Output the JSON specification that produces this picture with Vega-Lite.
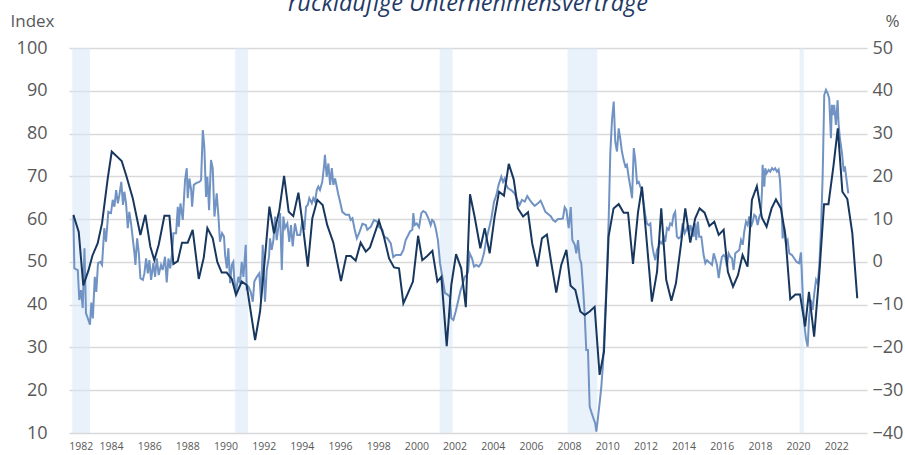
{
  "$schema": "https://vega.github.io/schema/vega-lite/v6.json",
  "width": 798,
  "height": 385,
  "autosize": {"type": "none"},
  "padding": {"left": 69, "top": 48, "right": 38, "bottom": 22},
  "background": "white",
  "config": {"view": {"stroke": null}, "font": "Open Sans", "axisX": {"labelOverlap": false}},
  "title": {"text": "rückläufige Unternehmensverträge", "font": "Open Sans", "fontStyle": "italic", "fontWeight": "normal", "fontSize": 23.5, "color": "#1F3A66", "anchor": "middle", "frame": "group", "offset": 0, "dy": 3},
  "datasets": {
    "bands": [
      {"start": 1981.97, "end": 1982.9},
      {"start": 1990.5, "end": 1991.18},
      {"start": 2001.22, "end": 2001.9},
      {"start": 2007.92, "end": 2009.48},
      {"start": 2020.08, "end": 2020.3}
    ],
    "dark": [
      {"t":1982.03,"i":61},{"t":1982.31,"i":57},{"t":1982.55,"i":44.5},{"t":1982.82,"i":48},{"t":1983.03,"i":51.5},{"t":1983.3,"i":54.3},{"t":1983.53,"i":59},{"t":1983.83,"i":69.5},{"t":1984.04,"i":75.8},{"t":1984.56,"i":73.6},{"t":1984.79,"i":70.3},{"t":1985.14,"i":64.9},{"t":1985.54,"i":56.3},{"t":1985.8,"i":61},{"t":1986.06,"i":53.6},{"t":1986.27,"i":50.4},{"t":1986.5,"i":54},{"t":1986.8,"i":60.8},{"t":1987.06,"i":60.8},{"t":1987.27,"i":49.5},{"t":1987.5,"i":50.2},{"t":1987.72,"i":54.5},{"t":1988.02,"i":54.5},{"t":1988.28,"i":57.5},{"t":1988.6,"i":46},{"t":1988.86,"i":51},{"t":1989.05,"i":57.9},{"t":1989.33,"i":55.5},{"t":1989.57,"i":50},{"t":1989.8,"i":47.5},{"t":1990.06,"i":47.5},{"t":1990.33,"i":46},{"t":1990.55,"i":42.3},{"t":1990.85,"i":45.4},{"t":1991.11,"i":44.6},{"t":1991.55,"i":31.7},{"t":1991.81,"i":38.4},{"t":1992.04,"i":49.7},{"t":1992.3,"i":62.9},{"t":1992.54,"i":56.7},{"t":1992.82,"i":62.1},{"t":1993.07,"i":70.1},{"t":1993.31,"i":61.7},{"t":1993.55,"i":60.7},{"t":1993.82,"i":66.2},{"t":1994.08,"i":57.5},{"t":1994.31,"i":48.9},{"t":1994.55,"i":60.2},{"t":1994.81,"i":64.5},{"t":1995.09,"i":63.3},{"t":1995.33,"i":58.6},{"t":1995.65,"i":54.5},{"t":1996.05,"i":45.5},{"t":1996.33,"i":51.4},{"t":1996.56,"i":51.4},{"t":1996.82,"i":50.3},{"t":1997.08,"i":54.5},{"t":1997.35,"i":52.4},{"t":1997.57,"i":53.4},{"t":1997.82,"i":56.7},{"t":1998.04,"i":59.6},{"t":1998.3,"i":55.9},{"t":1998.57,"i":50.8},{"t":1998.83,"i":48.7},{"t":1999.09,"i":48.5},{"t":1999.32,"i":40.3},{"t":1999.56,"i":42.7},{"t":1999.82,"i":45.4},{"t":2000.09,"i":56.1},{"t":2000.31,"i":50.4},{"t":2000.57,"i":51.4},{"t":2000.84,"i":52.6},{"t":2001.1,"i":45.4},{"t":2001.31,"i":46.5},{"t":2001.59,"i":30.3},{"t":2001.83,"i":44.6},{"t":2002.08,"i":51.8},{"t":2002.35,"i":48.5},{"t":2002.59,"i":39.4},{"t":2002.81,"i":65.8},{"t":2003.05,"i":60.6},{"t":2003.35,"i":53.2},{"t":2003.58,"i":57.9},{"t":2003.84,"i":52},{"t":2004.1,"i":60.6},{"t":2004.33,"i":66.4},{"t":2004.59,"i":65.5},{"t":2004.84,"i":72.9},{"t":2005.1,"i":69.3},{"t":2005.32,"i":62.5},{"t":2005.59,"i":60.6},{"t":2005.85,"i":61.6},{"t":2006.07,"i":54.3},{"t":2006.34,"i":48.9},{"t":2006.58,"i":55.5},{"t":2006.84,"i":56.4},{"t":2007.07,"i":49.7},{"t":2007.33,"i":42.8},{"t":2007.59,"i":49.3},{"t":2007.86,"i":52.8},{"t":2008.08,"i":44.4},{"t":2008.33,"i":43.4},{"t":2008.59,"i":38.4},{"t":2008.82,"i":37.6},{"t":2009.08,"i":38.4},{"t":2009.34,"i":39.5},{"t":2009.6,"i":23.6},{"t":2009.83,"i":29},{"t":2010.07,"i":55.9},{"t":2010.33,"i":62.5},{"t":2010.6,"i":63.5},{"t":2010.86,"i":61.5},{"t":2011.09,"i":61.5},{"t":2011.35,"i":49.5},{"t":2011.61,"i":61.5},{"t":2011.82,"i":67.6},{"t":2012.08,"i":54.3},{"t":2012.34,"i":40.7},{"t":2012.61,"i":47.7},{"t":2012.83,"i":62.5},{"t":2013.09,"i":45.8},{"t":2013.36,"i":40.9},{"t":2013.6,"i":45},{"t":2013.86,"i":54},{"t":2014.09,"i":62.5},{"t":2014.35,"i":54.5},{"t":2014.61,"i":60.2},{"t":2014.84,"i":62.5},{"t":2015.1,"i":61.5},{"t":2015.35,"i":58.4},{"t":2015.61,"i":59.4},{"t":2015.84,"i":56.3},{"t":2016.1,"i":57.5},{"t":2016.32,"i":47.7},{"t":2016.59,"i":44.2},{"t":2016.85,"i":46.9},{"t":2017.09,"i":51.6},{"t":2017.35,"i":48.9},{"t":2017.58,"i":64.5},{"t":2017.84,"i":67.7},{"t":2018.1,"i":60.4},{"t":2018.35,"i":58.2},{"t":2018.61,"i":62.5},{"t":2018.84,"i":64.6},{"t":2019.1,"i":62.5},{"t":2019.33,"i":56.3},{"t":2019.59,"i":41.3},{"t":2019.86,"i":42.4},{"t":2020.1,"i":42.4},{"t":2020.37,"i":34.9},{"t":2020.57,"i":43},{"t":2020.84,"i":32.5},{"t":2021.1,"i":46.5},{"t":2021.36,"i":63.5},{"t":2021.59,"i":63.5},{"t":2021.85,"i":72.3},{"t":2022.08,"i":81.2},{"t":2022.32,"i":66.4},{"t":2022.58,"i":64.7},{"t":2022.84,"i":56.7},{"t":2023.1,"i":41.5}
    ],
    "light": [
      {"t":1982.03,"v":10.6},{"t":1982.08,"v":-1.5},{"t":1982.26,"v":-1.9},{"t":1982.34,"v":-8.9},{"t":1982.43,"v":-6.6},{"t":1982.52,"v":-10.8},{"t":1982.61,"v":3.2},{"t":1982.69,"v":-12},{"t":1982.82,"v":-13.6},{"t":1982.9,"v":-14.7},{"t":1982.97,"v":-9.5},{"t":1983.05,"v":-13.2},{"t":1983.15,"v":-3.5},{"t":1983.23,"v":-7},{"t":1983.32,"v":-0.3},{"t":1983.44,"v":0},{"t":1983.53,"v":-0.7},{"t":1983.65,"v":7.9},{"t":1983.74,"v":4.7},{"t":1983.86,"v":11.7},{"t":1984.0,"v":11.4},{"t":1984.09,"v":14.5},{"t":1984.18,"v":12.9},{"t":1984.27,"v":16.8},{"t":1984.36,"v":13.7},{"t":1984.44,"v":15.6},{"t":1984.54,"v":18.7},{"t":1984.63,"v":13.3},{"t":1984.7,"v":16.4},{"t":1984.79,"v":13.7},{"t":1984.88,"v":7.9},{"t":1984.96,"v":11.7},{"t":1985.05,"v":9},{"t":1985.14,"v":5.5},{"t":1985.23,"v":2},{"t":1985.28,"v":-0.7},{"t":1985.37,"v":5.5},{"t":1985.46,"v":2},{"t":1985.54,"v":-3.8},{"t":1985.67,"v":-4.2},{"t":1985.75,"v":-2.7},{"t":1985.84,"v":0.8},{"t":1985.93,"v":-2.7},{"t":1986.01,"v":0.4},{"t":1986.1,"v":-4.2},{"t":1986.22,"v":-0.3},{"t":1986.31,"v":-3.5},{"t":1986.4,"v":0.8},{"t":1986.5,"v":-3.1},{"t":1986.62,"v":-0.7},{"t":1986.71,"v":-1.9},{"t":1986.83,"v":1.2},{"t":1986.92,"v":-4.8},{"t":1987.01,"v":0.8},{"t":1987.1,"v":-1.5},{"t":1987.2,"v":2},{"t":1987.27,"v":6.7},{"t":1987.41,"v":6.7},{"t":1987.5,"v":12.9},{"t":1987.55,"v":8.2},{"t":1987.64,"v":13.7},{"t":1987.76,"v":9.8},{"t":1987.88,"v":19.1},{"t":1987.97,"v":21.9},{"t":1988.02,"v":14.9},{"t":1988.11,"v":19.5},{"t":1988.2,"v":16.8},{"t":1988.25,"v":12.9},{"t":1988.34,"v":18},{"t":1988.46,"v":18.4},{"t":1988.63,"v":18.7},{"t":1988.72,"v":19.1},{"t":1988.81,"v":30.8},{"t":1988.89,"v":26.9},{"t":1988.98,"v":15.2},{"t":1989.05,"v":19.9},{"t":1989.14,"v":12.1},{"t":1989.24,"v":23.8},{"t":1989.33,"v":21.9},{"t":1989.42,"v":10.6},{"t":1989.54,"v":16},{"t":1989.63,"v":10.6},{"t":1989.71,"v":4.7},{"t":1989.82,"v":6.7},{"t":1989.92,"v":5.9},{"t":1989.98,"v":1.6},{"t":1990.07,"v":-1.5},{"t":1990.15,"v":3.2},{"t":1990.24,"v":-5},{"t":1990.33,"v":-0.7},{"t":1990.41,"v":0},{"t":1990.46,"v":-4.2},{"t":1990.55,"v":-7},{"t":1990.67,"v":-3.5},{"t":1990.76,"v":-5},{"t":1990.85,"v":0},{"t":1990.94,"v":-3.5},{"t":1991.06,"v":4},{"t":1991.11,"v":-6.2},{"t":1991.2,"v":-5.8},{"t":1991.32,"v":-7},{"t":1991.43,"v":-9.3},{"t":1991.51,"v":-4.6},{"t":1991.64,"v":-3.5},{"t":1991.77,"v":-2.7},{"t":1991.86,"v":-8.9},{"t":1991.95,"v":4},{"t":1992.07,"v":-9.3},{"t":1992.16,"v":-1.9},{"t":1992.28,"v":1.2},{"t":1992.33,"v":5.5},{"t":1992.42,"v":2.8},{"t":1992.51,"v":5.1},{"t":1992.6,"v":10.6},{"t":1992.68,"v":5.1},{"t":1992.77,"v":8.2},{"t":1992.86,"v":11.4},{"t":1992.95,"v":-1.9},{"t":1993.03,"v":10.6},{"t":1993.12,"v":7.9},{"t":1993.24,"v":9},{"t":1993.34,"v":4.7},{"t":1993.43,"v":8.6},{"t":1993.52,"v":3.6},{"t":1993.64,"v":9},{"t":1993.76,"v":6.3},{"t":1993.91,"v":6.3},{"t":1994.03,"v":9.8},{"t":1994.13,"v":7.5},{"t":1994.22,"v":12.9},{"t":1994.31,"v":13.3},{"t":1994.39,"v":14.9},{"t":1994.52,"v":13.7},{"t":1994.6,"v":14.9},{"t":1994.69,"v":14.1},{"t":1994.78,"v":16.8},{"t":1994.86,"v":17.6},{"t":1994.95,"v":16.8},{"t":1995.07,"v":18.7},{"t":1995.16,"v":22.3},{"t":1995.21,"v":25},{"t":1995.3,"v":19.9},{"t":1995.39,"v":23},{"t":1995.48,"v":18},{"t":1995.57,"v":21.9},{"t":1995.65,"v":18},{"t":1995.74,"v":19.5},{"t":1995.9,"v":16},{"t":1996.0,"v":14.1},{"t":1996.12,"v":11.7},{"t":1996.3,"v":11},{"t":1996.47,"v":11},{"t":1996.56,"v":9.8},{"t":1996.65,"v":10.2},{"t":1996.77,"v":7.5},{"t":1996.88,"v":5.5},{"t":1997.0,"v":6.7},{"t":1997.17,"v":8.9},{"t":1997.35,"v":8.6},{"t":1997.43,"v":7.5},{"t":1997.61,"v":8.2},{"t":1997.78,"v":9.8},{"t":1997.95,"v":9.4},{"t":1998.04,"v":8.2},{"t":1998.22,"v":7.5},{"t":1998.31,"v":5.9},{"t":1998.48,"v":5.5},{"t":1998.66,"v":4.3},{"t":1998.79,"v":1.1},{"t":1998.92,"v":1.6},{"t":1999.18,"v":1.6},{"t":1999.32,"v":2.8},{"t":1999.44,"v":5.1},{"t":1999.67,"v":7.1},{"t":1999.79,"v":7.5},{"t":1999.84,"v":11.4},{"t":1999.91,"v":8.6},{"t":2000.02,"v":9},{"t":2000.14,"v":8.1},{"t":2000.26,"v":11.4},{"t":2000.36,"v":11.9},{"t":2000.49,"v":11.5},{"t":2000.63,"v":10.2},{"t":2000.75,"v":8.6},{"t":2000.83,"v":9.8},{"t":2000.92,"v":9.4},{"t":2001.01,"v":7.9},{"t":2001.13,"v":5.1},{"t":2001.24,"v":-0.3},{"t":2001.36,"v":-3.5},{"t":2001.5,"v":-7.3},{"t":2001.62,"v":-7.6},{"t":2001.75,"v":-8.1},{"t":2001.83,"v":-13.2},{"t":2001.94,"v":-13.6},{"t":2002.06,"v":-11.6},{"t":2002.18,"v":-9.3},{"t":2002.32,"v":-6.6},{"t":2002.41,"v":-5.4},{"t":2002.53,"v":-3.5},{"t":2002.64,"v":-3.1},{"t":2002.71,"v":-2.3},{"t":2002.79,"v":2},{"t":2002.92,"v":0.8},{"t":2003.02,"v":-1.1},{"t":2003.14,"v":-0.7},{"t":2003.27,"v":-1.1},{"t":2003.4,"v":-0.3},{"t":2003.54,"v":2},{"t":2003.66,"v":5.1},{"t":2003.79,"v":7.5},{"t":2003.93,"v":10.2},{"t":2004.07,"v":14.1},{"t":2004.19,"v":15.6},{"t":2004.31,"v":18},{"t":2004.45,"v":19.9},{"t":2004.54,"v":18.7},{"t":2004.63,"v":19.5},{"t":2004.71,"v":18},{"t":2004.8,"v":17.2},{"t":2004.97,"v":16.8},{"t":2005.15,"v":16},{"t":2005.27,"v":14.5},{"t":2005.41,"v":13.3},{"t":2005.53,"v":14.5},{"t":2005.68,"v":14.1},{"t":2005.81,"v":15.4},{"t":2005.94,"v":14.5},{"t":2006.07,"v":13.7},{"t":2006.2,"v":13.1},{"t":2006.37,"v":13.7},{"t":2006.51,"v":14.3},{"t":2006.63,"v":13.1},{"t":2006.76,"v":11.7},{"t":2006.9,"v":11.2},{"t":2007.04,"v":10.7},{"t":2007.16,"v":9.8},{"t":2007.28,"v":9.4},{"t":2007.42,"v":10},{"t":2007.56,"v":10},{"t":2007.68,"v":10.2},{"t":2007.77,"v":12.8},{"t":2007.86,"v":12.1},{"t":2007.98,"v":7.9},{"t":2008.09,"v":12.8},{"t":2008.17,"v":5.1},{"t":2008.3,"v":4},{"t":2008.38,"v":2},{"t":2008.47,"v":5.1},{"t":2008.56,"v":0.8},{"t":2008.64,"v":-0.3},{"t":2008.73,"v":-5.8},{"t":2008.82,"v":-12.4},{"t":2008.9,"v":-20.6},{"t":2008.99,"v":-20.6},{"t":2009.08,"v":-33.8},{"t":2009.16,"v":-35},{"t":2009.25,"v":-36.2},{"t":2009.31,"v":-37},{"t":2009.37,"v":-37.7},{"t":2009.43,"v":-39.7},{"t":2009.52,"v":-36.2},{"t":2009.6,"v":-33.1},{"t":2009.69,"v":-29.2},{"t":2009.78,"v":-23.7},{"t":2009.9,"v":-11.2},{"t":2009.99,"v":-2.3},{"t":2010.08,"v":10.6},{"t":2010.16,"v":25.4},{"t":2010.25,"v":33.2},{"t":2010.34,"v":37.5},{"t":2010.42,"v":28.1},{"t":2010.51,"v":25.8},{"t":2010.6,"v":31.2},{"t":2010.68,"v":28.9},{"t":2010.77,"v":25.8},{"t":2010.86,"v":23.8},{"t":2010.95,"v":22.3},{"t":2011.03,"v":22.7},{"t":2011.12,"v":19.9},{"t":2011.21,"v":17.6},{"t":2011.3,"v":14.9},{"t":2011.39,"v":26.6},{"t":2011.47,"v":23.8},{"t":2011.56,"v":18.4},{"t":2011.65,"v":18.7},{"t":2011.73,"v":17.6},{"t":2011.82,"v":16.8},{"t":2011.91,"v":13.7},{"t":2011.99,"v":11},{"t":2012.08,"v":9},{"t":2012.17,"v":8.6},{"t":2012.26,"v":9},{"t":2012.34,"v":4.3},{"t":2012.43,"v":2},{"t":2012.52,"v":0.4},{"t":2012.61,"v":2.8},{"t":2012.7,"v":3.6},{"t":2012.78,"v":4.7},{"t":2012.87,"v":4.3},{"t":2012.96,"v":5.9},{"t":2013.04,"v":4.7},{"t":2013.13,"v":7.9},{"t":2013.22,"v":7.5},{"t":2013.3,"v":9},{"t":2013.39,"v":8.6},{"t":2013.48,"v":11},{"t":2013.56,"v":11.7},{"t":2013.65,"v":5.9},{"t":2013.74,"v":5.5},{"t":2013.86,"v":5.9},{"t":2013.95,"v":9},{"t":2014.06,"v":6.7},{"t":2014.14,"v":7.5},{"t":2014.23,"v":8.6},{"t":2014.3,"v":6.3},{"t":2014.35,"v":8.6},{"t":2014.44,"v":7.5},{"t":2014.53,"v":5.9},{"t":2014.61,"v":9},{"t":2014.66,"v":5.1},{"t":2014.75,"v":9.4},{"t":2014.82,"v":5.9},{"t":2014.93,"v":5.9},{"t":2015.05,"v":1.6},{"t":2015.14,"v":-0.3},{"t":2015.23,"v":0.4},{"t":2015.31,"v":0},{"t":2015.4,"v":-0.3},{"t":2015.49,"v":-0.7},{"t":2015.58,"v":2},{"t":2015.66,"v":0.8},{"t":2015.75,"v":-0.7},{"t":2015.84,"v":-3.8},{"t":2015.92,"v":-1.1},{"t":2016.01,"v":1.2},{"t":2016.1,"v":1.6},{"t":2016.18,"v":1.2},{"t":2016.27,"v":-1.1},{"t":2016.36,"v":2},{"t":2016.45,"v":1.2},{"t":2016.54,"v":0.8},{"t":2016.62,"v":-1.9},{"t":2016.71,"v":2},{"t":2016.92,"v":2.8},{"t":2017.01,"v":5.1},{"t":2017.1,"v":4},{"t":2017.18,"v":7.1},{"t":2017.27,"v":9.4},{"t":2017.36,"v":8.6},{"t":2017.44,"v":10.6},{"t":2017.53,"v":8.2},{"t":2017.62,"v":9.4},{"t":2017.7,"v":11},{"t":2017.79,"v":10.6},{"t":2017.88,"v":8.6},{"t":2017.97,"v":10.6},{"t":2018.05,"v":11.4},{"t":2018.11,"v":16.8},{"t":2018.14,"v":22.7},{"t":2018.23,"v":17.6},{"t":2018.28,"v":21.9},{"t":2018.35,"v":20.7},{"t":2018.46,"v":21.5},{"t":2018.54,"v":21.1},{"t":2018.63,"v":21.9},{"t":2018.72,"v":21.5},{"t":2018.8,"v":21.9},{"t":2018.89,"v":21.1},{"t":2018.98,"v":21.6},{"t":2019.05,"v":19.1},{"t":2019.14,"v":11.7},{"t":2019.19,"v":5.5},{"t":2019.27,"v":8.2},{"t":2019.36,"v":4.3},{"t":2019.45,"v":5.1},{"t":2019.54,"v":2},{"t":2019.68,"v":1.6},{"t":2019.8,"v":0.8},{"t":2019.92,"v":0},{"t":2020.06,"v":-0.3},{"t":2020.15,"v":2.2},{"t":2020.24,"v":-7.3},{"t":2020.32,"v":-14.4},{"t":2020.41,"v":-17.9},{"t":2020.5,"v":-19.8},{"t":2020.58,"v":-12.8},{"t":2020.67,"v":-8.9},{"t":2020.76,"v":-11.2},{"t":2020.85,"v":-7.3},{"t":2020.94,"v":-4.2},{"t":2021.02,"v":-5},{"t":2021.11,"v":-1.1},{"t":2021.2,"v":7.5},{"t":2021.29,"v":20.7},{"t":2021.37,"v":39},{"t":2021.46,"v":40.2},{"t":2021.55,"v":39.4},{"t":2021.63,"v":38.2},{"t":2021.72,"v":28.9},{"t":2021.77,"v":36.7},{"t":2021.84,"v":34.3},{"t":2021.89,"v":36.7},{"t":2021.98,"v":32},{"t":2022.07,"v":37.8},{"t":2022.12,"v":32.4},{"t":2022.19,"v":28.9},{"t":2022.3,"v":25.4},{"t":2022.39,"v":21.1},{"t":2022.45,"v":22.3},{"t":2022.54,"v":19.1},{"t":2022.63,"v":16}
    ]
  },
  "layer": [
    {
      "data": {"name": "bands"},
      "mark": {"type": "rect", "color": "#D7E7F7", "opacity": 0.55},
      "encoding": {
        "x": {"field": "start", "type": "quantitative", "scale": {"domain": [1981.8, 2023.61], "nice": false, "zero": false}, "axis": {"values": [1982,1984,1986,1988,1990,1992,1994,1996,1998,2000,2002,2004,2006,2008,2010,2012,2014,2016,2018,2020,2022], "format": "d", "title": null, "grid": false, "domain": false, "ticks": false, "tickSize": 0, "labelPadding": 8, "labelFontSize": 10.5, "labelColor": "#595959", "labelFont": "Open Sans", "labelFlush": 5, "labelFlushOffset": 4, "labelOverlap": false}},
        "x2": {"field": "end"}
      }
    },
    {
      "data": {"name": "light"},
      "mark": {"type": "line", "color": "#7193C3", "strokeWidth": 2},
      "encoding": {
        "x": {"field": "t", "type": "quantitative", "scale": {"domain": [1981.8, 2023.61], "nice": false, "zero": false}, "axis": {"values": [1982,1984,1986,1988,1990,1992,1994,1996,1998,2000,2002,2004,2006,2008,2010,2012,2014,2016,2018,2020,2022], "format": "d", "title": null, "grid": false, "domain": false, "ticks": false, "tickSize": 0, "labelPadding": 8, "labelFontSize": 10.5, "labelColor": "#595959", "labelFont": "Open Sans", "labelFlush": 5, "labelFlushOffset": 4, "labelOverlap": false}},
        "y": {"field": "v", "type": "quantitative", "scale": {"domain": [-40, 50], "nice": false, "zero": false}, "axis": {"orient": "right", "values": [-40,-30,-20,-10,0,10,20,30,40,50], "grid": false, "domain": false, "ticks": false, "tickSize": 0, "labelPadding": 5, "labelFontSize": 18, "labelColor": "#595959", "labelFont": "Open Sans", "title": "%", "titleAngle": 0, "titleX": 18, "titleY": -22, "titleAlign": "left", "titleBaseline": "alphabetic", "titleFontSize": 17, "titleFontWeight": "normal", "titleColor": "#595959", "titleFont": "Open Sans"}}
      }
    },
    {
      "data": {"name": "dark"},
      "mark": {"type": "line", "color": "#17375E", "strokeWidth": 2},
      "encoding": {
        "x": {"field": "t", "type": "quantitative", "scale": {"domain": [1981.8, 2023.61], "nice": false, "zero": false}, "axis": {"values": [1982,1984,1986,1988,1990,1992,1994,1996,1998,2000,2002,2004,2006,2008,2010,2012,2014,2016,2018,2020,2022], "format": "d", "title": null, "grid": false, "domain": false, "ticks": false, "tickSize": 0, "labelPadding": 8, "labelFontSize": 10.5, "labelColor": "#595959", "labelFont": "Open Sans", "labelFlush": 5, "labelFlushOffset": 4, "labelOverlap": false}},
        "y": {"field": "i", "type": "quantitative", "scale": {"domain": [10, 100], "nice": false, "zero": false}, "axis": {"orient": "left", "values": [10,20,30,40,50,60,70,80,90,100], "grid": true, "gridColor": "#D9D9D9", "gridWidth": 1.5, "domain": false, "ticks": false, "tickSize": 0, "labelPadding": 22, "labelFontSize": 18, "labelColor": "#595959", "labelFont": "Open Sans", "title": "Index", "titleAngle": 0, "titleX": -59, "titleY": -22, "titleAlign": "left", "titleBaseline": "alphabetic", "titleFontSize": 17, "titleFontWeight": "normal", "titleColor": "#595959", "titleFont": "Open Sans"}}
      }
    }
  ],
  "resolve": {"scale": {"y": "independent"}}
}
